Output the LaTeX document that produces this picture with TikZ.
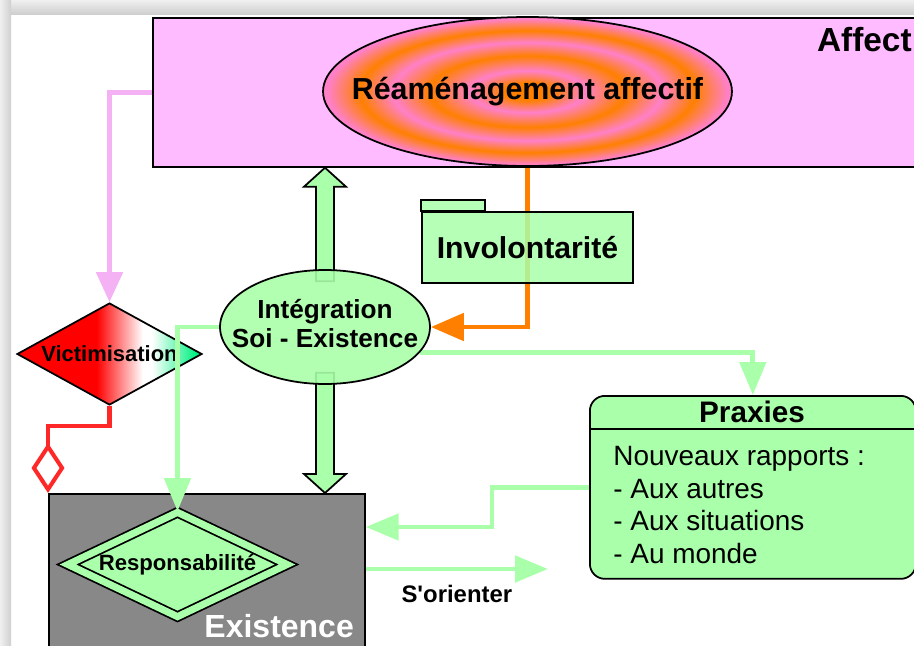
\documentclass[tikz,border=0pt]{standalone}
\usepackage{fontspec}
\setmainfont{Liberation Sans}
\usetikzlibrary{shapes.geometric,arrows.meta,calc,backgrounds}

\definecolor{affectpink}{HTML}{FFBBFF}
\definecolor{lightgreen}{HTML}{AAFFAA}
\definecolor{linkorange}{HTML}{FF8000}
\definecolor{linkpink}{HTML}{F4B2F4}
\definecolor{ringpink}{HTML}{FF80C8}
\definecolor{victimred}{HTML}{FF0000}
\definecolor{victimgreen}{HTML}{00F080}
\definecolor{linkred}{HTML}{FF2828}
\definecolor{existgray}{HTML}{888888}

% TikZ legt den Pfad auf den Bereich 25bp--75bp der Schattierung
\pgfdeclareradialshading{reaffshade}{\pgfpoint{0bp}{0bp}}{%
  color(0bp)=(linkorange); color(3bp)=(linkorange); color(7bp)=(ringpink);
  color(12bp)=(linkorange); color(16.5bp)=(ringpink); color(20.5bp)=(linkorange);
  color(24.5bp)=(ringpink); color(50bp)=(ringpink)}
\pgfdeclarehorizontalshading{victimshade}{100bp}{%
  color(0bp)=(victimred); color(46.5bp)=(victimred); color(59bp)=(white);
  color(61.5bp)=(white); color(73.5bp)=(victimgreen); color(100bp)=(victimgreen)}

\newcommand{\setfs}[2]{\fontsize{#1}{#2}\selectfont}

\tikzset{
  box/.style={draw=black, line width=1pt},
  link/.style={line width=2.8pt},
  greenlink/.style={link, draw=lightgreen, -{Triangle[length=0.66cm, width=0.52cm]}},
  orangelink/.style={link, draw=linkorange, -{Triangle[length=0.66cm, width=0.54cm]}},
  pinklink/.style={link, draw=linkpink, -{Triangle[length=0.6cm, width=0.52cm]}},
  redlink/.style={line width=2.3pt, draw=linkred, -{Diamond[open, length=1cm, width=0.66cm]}},
  blockarrow/.style={box, fill=lightgreen}
}

\begin{document}
\begin{tikzpicture}[x=0.02cm, y=-0.02cm]
  \pgfmathsetmacro{\shaftHalf}{9}
  \pgfmathsetmacro{\headHalf}{21}
  \pgfmathsetmacro{\headLen}{19}

  \useasboundingbox (0,0) rectangle (914,646);

  % Rahmen
  \begin{scope}[on background layer]
    \fill[white] (0,0) rectangle (914,646);
    \shade[top color=gray!12, bottom color=gray!38] (0,0) rectangle (914,14);
    \shade[left color=gray!12, right color=gray!38] (0,0) rectangle (11,646);
  \end{scope}

  % Affect
  \node[box, fill=affectpink, anchor=north west, minimum width=15.6cm, minimum height=2.98cm] (affect) at (152,17) {};
  \node[anchor=base east, inner xsep=0pt, font=\bfseries\setfs{19}{22}] (affecttitle) at (912,51) {Affect};
  \node[box, ellipse, shading=reaffshade, minimum width=8.18cm, minimum height=2.98cm, inner sep=0pt,
        font=\bfseries\setfs{17.3}{20}] (reaff) at (527.5,91.5) {\makebox[0pt]{Réaménagement affectif}};

  % Involontarite
  \node[box, fill=lightgreen, fill opacity=0.85, text opacity=1, minimum width=4.22cm, minimum height=1.42cm,
        font=\bfseries\setfs{17.2}{20}] (invol) at (527.5,247.5) {Involontarité};
  \draw[box, fill=lightgreen, fill opacity=0.85] (invol.north west) rectangle ++(64,-11);

  % Integration
  \node[box, ellipse, fill=lightgreen, fill opacity=0.9, text opacity=1, minimum width=4.2cm, minimum height=2.28cm,
        inner sep=0pt, font=\bfseries\setfs{14.9}{16.6}] (integ) at (325,327)
    {\makebox[0pt]{\begin{tabular}{@{}c@{}}Intégration\\Soi - Existence\end{tabular}}};

  % Victimisation
  \node[box, diamond, aspect=1.81, shading=victimshade, minimum width=3.7cm, minimum height=2.04cm, inner sep=0pt,
        font=\bfseries\setfs{12.5}{14}] (victim) at (109.5,354) {Victimisation};

  % Existence
  \node[box, fill=existgray, anchor=north west, minimum width=6.32cm, minimum height=3.5cm] (exist) at (48,493) {};
  \node[anchor=base east, text=white, font=\bfseries\setfs{18.2}{20}] (existlabel) at (360,637) {Existence};
  \node[box, diamond, aspect=2.1, double=lightgreen, double distance=4pt, fill=lightgreen, minimum width=4.4cm,
        minimum height=2.1cm, inner sep=0pt, font=\bfseries\setfs{12.6}{14}] (resp) at (177.5,564.5) {Responsabilité};

  % Praxies
  \node[box, fill=lightgreen, rounded corners=0.3cm, anchor=north west, minimum width=6.52cm, minimum height=3.66cm] (praxies) at (589,395) {};
  \draw[box] ($(praxies.north west)+(0,34)$) -- ($(praxies.north east)+(0,34)$);
  \node[anchor=base, font=\bfseries\setfs{16.9}{19}] (praxtitle) at (752,422) {Praxies};
  \node[anchor=north west, inner sep=0pt, align=left, font=\setfs{15.9}{18.5}] (praxbody) at (613,446)
    {Nouveaux rapports :\\- Aux autres\\- Aux situations\\- Au monde};

  % Verbindungen
  \begin{scope}[on background layer]
    \draw[pinklink] (affect.west) -| (victim.north);
    \draw[orangelink] (reaff.south) |- (integ.east);
    \draw[greenlink] (integ.-15) -| (praxies.north);

    % Blockpfeile
    \coordinate (uptip) at (integ.north |- affect.south);
    \draw[blockarrow] ($(integ.north)+(-\shaftHalf,12)$) -- ($(uptip)+(-\shaftHalf,\headLen)$)
      -- ($(uptip)+(-\headHalf,\headLen)$) -- (uptip) -- ($(uptip)+(\headHalf,\headLen)$)
      -- ($(uptip)+(\shaftHalf,\headLen)$) -- ($(integ.north)+(\shaftHalf,12)$) -- cycle;
    \coordinate (downtip) at (integ.south |- exist.north);
    \draw[blockarrow] ($(integ.south)+(-\shaftHalf,-12)$) -- ($(downtip)+(-\shaftHalf,-\headLen)$)
      -- ($(downtip)+(-\headHalf,-\headLen)$) -- (downtip) -- ($(downtip)+(\headHalf,-\headLen)$)
      -- ($(downtip)+(\shaftHalf,-\headLen)$) -- ($(integ.south)+(\shaftHalf,-12)$) -- cycle;
  \end{scope}

  \draw[greenlink] (integ.west) -| (resp.north);
  \draw[greenlink] (praxies.west) -- ++(-97,0) |- ($(exist.north east)+(0,34)$);
  \coordinate (orient) at (548,569);
  \draw[greenlink] ($(exist.north east)+(0,76)$) -- (orient)
    node[midway, below=0.28cm, inner sep=0pt, text=black, font=\bfseries\setfs{13.6}{16}] (orientlabel) {S\textquotesingle orienter};
  \draw[redlink] (victim.south) -- ++(0,20) -| (exist.north west);
\end{tikzpicture}
\end{document}
